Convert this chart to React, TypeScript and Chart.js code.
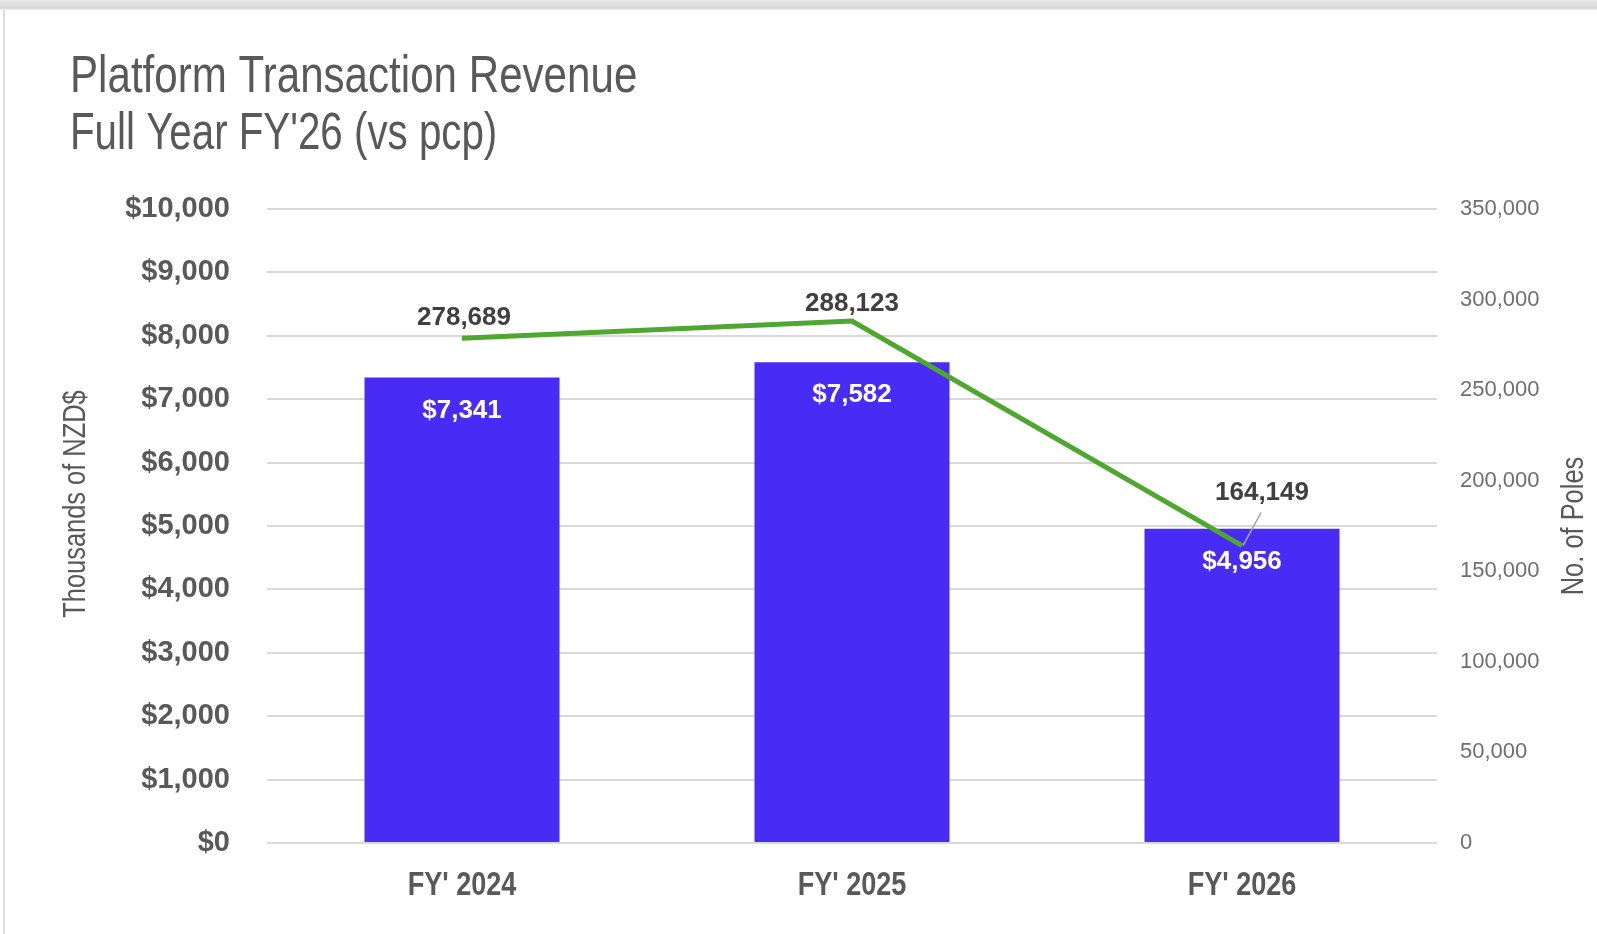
import React, { useEffect, useRef } from "react";
import { Chart, registerables } from "chart.js";

Chart.register(...registerables);

const categories = ["FY' 2024", "FY' 2025", "FY' 2026"];
const revenue = [7341, 7582, 4956];
const poles = [278689, 288123, 164149];
const revenueMax = 10000;
const revenueStep = 1000;
const polesMax = 350000;
const polesStep = 50000;
const titleLines = ["Platform Transaction Revenue", "Full Year FY'26 (vs pcp)"];
const leftAxisTitle = "Thousands of NZD$";
const rightAxisTitle = "No. of Poles";

const W = 1597;
const H = 934;
const SANS = '"Liberation Sans", Arial, sans-serif';
const GRAY = "#595959";
const BAR_COLOR = "#482BF5";
const LINE_COLOR = "#4EA72E";
const NARROW_SCALE = 0.82;

const fmt = (v: number) => v.toLocaleString("en-US");

function narrowText(ctx: CanvasRenderingContext2D, text: string, x: number, y: number, rot = 0, sx = NARROW_SCALE) {
  ctx.save();
  ctx.translate(x, y);
  if (rot) ctx.rotate(rot);
  ctx.scale(sx, 1);
  ctx.fillText(text, 0, 0);
  ctx.restore();
}

const labelPlugin = {
  id: "customLabels",
  afterDatasetsDraw(chart: any) {
    const ctx = chart.ctx as CanvasRenderingContext2D;
    ctx.save();
    // bar labels
    const barMeta = chart.getDatasetMeta(0);
    ctx.font = `bold 26px ${SANS}`;
    ctx.fillStyle = "#ffffff";
    ctx.textAlign = "center";
    ctx.textBaseline = "middle";
    barMeta.data.forEach((el: any, i: number) => {
      ctx.fillText("$" + fmt(revenue[i]), el.x, el.y + 33);
    });
    // line labels
    const lineMeta = chart.getDatasetMeta(1);
    ctx.fillStyle = "#404040";
    const offsets = [
      { dx: 2, dy: -20, leader: false },
      { dx: 0, dy: -17, leader: false },
      { dx: 20, dy: -53, leader: true },
    ];
    lineMeta.data.forEach((el: any, i: number) => {
      const o = offsets[i];
      if (o.leader) {
        ctx.strokeStyle = "#a6a6a6";
        ctx.lineWidth = 1.5;
        ctx.beginPath();
        ctx.moveTo(el.x + 1, el.y);
        ctx.lineTo(el.x + o.dx - 1, el.y + o.dy + 20);
        ctx.stroke();
      }
      ctx.fillText(fmt(poles[i]), el.x + o.dx, el.y + o.dy);
    });

    // x tick labels (condensed bold)
    const xs = chart.scales.x;
    ctx.fillStyle = GRAY;
    ctx.font = `bold 33px ${SANS}`;
    categories.forEach((c, i) => {
      narrowText(ctx, c, xs.getPixelForValue(i), 886);
    });
    ctx.restore();
  },
  afterDraw(chart: any) {
    const ctx = chart.ctx as CanvasRenderingContext2D;
    ctx.save();
    ctx.fillStyle = GRAY;
    ctx.textAlign = "left";
    ctx.textBaseline = "alphabetic";
    ctx.font = `52px ${SANS}`;
    narrowText(ctx, titleLines[0], 70, 92, 0, 0.81);
    narrowText(ctx, titleLines[1], 70, 149, 0, 0.775);

    ctx.font = `31px ${SANS}`;
    ctx.textAlign = "center";
    ctx.textBaseline = "middle";
    narrowText(ctx, leftAxisTitle, 76, 504, -Math.PI / 2);
    narrowText(ctx, rightAxisTitle, 1574, 526, -Math.PI / 2);
    ctx.restore();
  },
};

export default function App() {
  const ref = useRef<HTMLCanvasElement | null>(null);

  useEffect(() => {
    document.body.style.margin = "0";
    document.body.style.background = "#ffffff";
    if (!ref.current) return;
    const chart = new Chart(ref.current, {
      type: "bar",
      data: {
        labels: categories,
        datasets: [
          {
            type: "bar",
            data: revenue,
            backgroundColor: BAR_COLOR,
            yAxisID: "y",
            barPercentage: 0.5,
            categoryPercentage: 1,
            order: 1,
          },
          {
            type: "line",
            data: poles,
            borderColor: LINE_COLOR,
            backgroundColor: LINE_COLOR,
            borderWidth: 5,
            pointRadius: 0,
            tension: 0,
            yAxisID: "y1",
            order: 0,
          } as any,
        ],
      },
      options: {
        animation: false,
        responsive: false,
        maintainAspectRatio: false,
        layout: { padding: { top: 209, left: 0, right: 0, bottom: 0 } },
        plugins: {
          legend: { display: false },
          tooltip: { enabled: false },
          title: { display: false },
        },
        scales: {
          x: {
            grid: { display: false },
            border: { display: false },
            ticks: { display: false },
            afterFit: (s: any) => {
              s.height = H - 843;
            },
          },
          y: {
            position: "left",
            min: 0,
            max: revenueMax,
            grid: { color: "#d9d9d9", lineWidth: 2, drawTicks: false },
            border: { display: false },
            ticks: {
              stepSize: revenueStep,
              color: GRAY,
              font: { family: SANS, size: 29, weight: "bold", lineHeight: 1.05 },
              padding: 37,
              callback: (v: any) => "$" + fmt(Number(v)),
            },
            afterFit: (s: any) => {
              s.width = 267;
            },
          },
          y1: {
            position: "right",
            min: 0,
            max: polesMax,
            grid: { display: false, drawTicks: false },
            border: { display: false },
            ticks: {
              stepSize: polesStep,
              color: "#6f6f6f",
              font: { family: SANS, size: 22 },
              padding: 23,
              callback: (v: any) => fmt(Number(v)),
            },
            afterFit: (s: any) => {
              s.width = W - 1437;
            },
          },
        },
      } as any,
      plugins: [labelPlugin],
    });
    return () => chart.destroy();
  }, []);

  return (
    <div style={{ position: "fixed", left: 0, top: 0, width: W, height: H, background: "#fff", overflow: "hidden" }}>
      <canvas ref={ref} width={W} height={H} style={{ position: "absolute", left: 0, top: 0, width: W, height: H }} />
      <div
        style={{
          position: "absolute",
          left: 0,
          top: 0,
          width: W,
          height: 10,
          background: "linear-gradient(to bottom, #e8e8e8, #d6d6d6 80%, #f2f2f2)",
        }}
      />
      <div style={{ position: "absolute", left: 3, top: 10, width: 2, height: H - 10, background: "#dcdcdc" }} />
    </div>
  );
}
